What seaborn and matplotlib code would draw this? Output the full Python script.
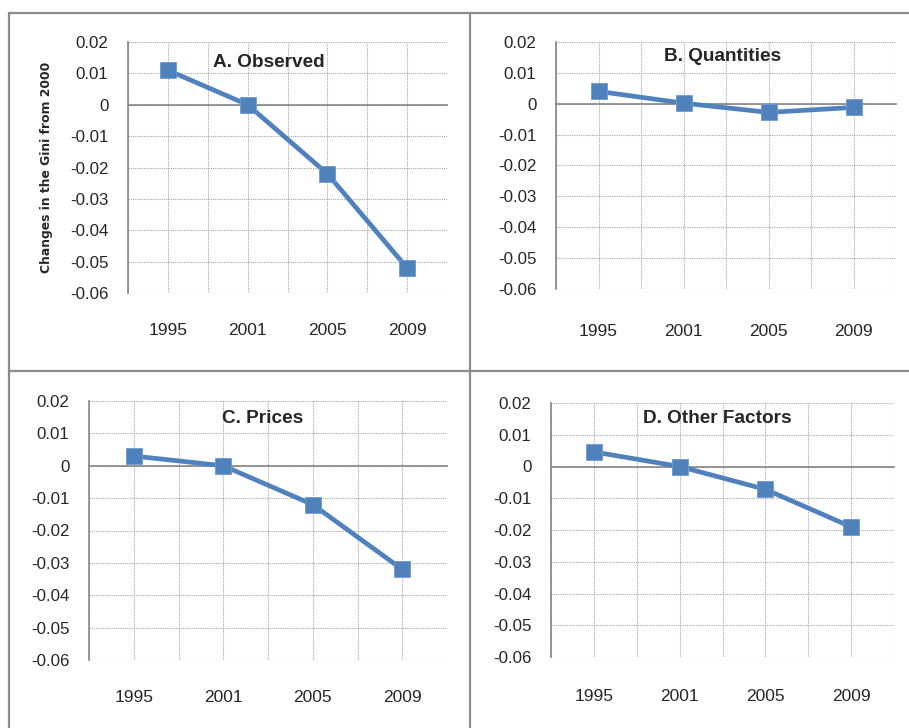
import numpy as np
import pandas as pd
import seaborn as sns
import matplotlib.pyplot as plt
from matplotlib.lines import Line2D

# Data
years = ["1995", "2001", "2005", "2009"]
observed = [0.011, 0.0, -0.022, -0.052]
quantities = [0.004, 0.0002, -0.0028, -0.0012]
prices = [0.003, 0.0, -0.012, -0.032]
other_factors = [0.0046, 0.0, -0.0072, -0.019]

titles = ["A. Observed", "B. Quantities", "C. Prices", "D. Other Factors"]
yticks = [0.02, 0.01, 0, -0.01, -0.02, -0.03, -0.04, -0.05, -0.06]
ytick_labels = ["0.02", "0.01", "0", "-0.01", "-0.02", "-0.03", "-0.04", "-0.05", "-0.06"]

W, H = 909, 728
BLUE = "#4F81BD"
GRID = "#a6a6a6"
AXIS = "#868686"

sns.set_theme(style="white")
plt.rcParams["font.family"] = ["Liberation Sans", "DejaVu Sans"]

df = pd.DataFrame({
    "year": years * 4,
    "value": observed + quantities + prices + other_factors,
    "panel": np.repeat(titles, len(years)),
})

# pixel boxes of each plot area: left, right, top, bottom
boxes = [(128, 447, 42, 293), (556, 896, 42, 289), (89, 447, 401, 660), (551, 894, 403, 657)]
title_pos = [(0.442, 0.92), (0.49, 0.94), (0.485, 0.934), (0.484, 0.94)]
year_row = [-0.11, -0.13, -0.105, -0.115]

fig = plt.figure(figsize=(W / 100, H / 100), dpi=100)

for i, name in enumerate(titles):
    l, r, t, b = boxes[i]
    ax = fig.add_axes([l / W, 1 - b / H, (r - l) / W, (b - t) / H])
    sub = df[df["panel"] == name]
    sns.lineplot(data=sub, x="year", y="value", ax=ax, color=BLUE, lw=3.4,
                 marker="s", markersize=12, markeredgecolor="#6f9bd0",
                 markeredgewidth=0.6, zorder=5)
    ax.set_xlim(-0.5, 3.5)
    ax.set_ylim(-0.06, 0.02)
    ax.set_xlabel("")
    ax.set_ylabel("")

    # category boundaries carry the ticks on the zero axis
    ax.set_xticks(np.arange(-0.5, 4, 1))
    ax.set_xticklabels([])
    ax.set_xticks(np.arange(len(years)), minor=True)
    ax.set_yticks(yticks)
    ax.set_yticklabels(ytick_labels, fontsize=12.2)
    ax.tick_params(axis="y", direction="out", length=5, color=AXIS, pad=9)
    ax.tick_params(axis="x", which="major", direction="out", length=5, color=AXIS)
    ax.tick_params(axis="x", which="minor", length=0)

    ax.grid(True, axis="both", which="major", color=GRID, lw=0.8, linestyle=(0, (1, 1)))
    ax.grid(True, axis="x", which="minor", color=GRID, lw=0.8, linestyle=(0, (1, 1)))

    ax.spines["bottom"].set_position(("data", 0))
    for s in ["top", "right"]:
        ax.spines[s].set_visible(False)
    for s in ["left", "bottom"]:
        ax.spines[s].set_color(AXIS)
        ax.spines[s].set_linewidth(1.2)

    # year labels sit below the plot area
    sec = ax.secondary_xaxis(year_row[i])
    sec.set_xticks(np.arange(len(years)))
    sec.set_xticklabels(years, fontsize=12.5)
    sec.tick_params(length=0, pad=2)
    sec.spines["bottom"].set_visible(False)

    tx, ty = title_pos[i]
    ax.text(tx, ty, name, transform=ax.transAxes, ha="center", va="center",
            fontsize=13.7, fontweight="bold")

    if i == 0:
        ax.set_ylabel("Changes in the Gini from 2000", fontsize=8.9,
                      fontweight="bold", family=["DejaVu Sans"])
        ax.yaxis.set_label_coords(-0.235, 0.5)

# table-like frame around the panels
frame = [((9, 909), (13, 13)), ((9, 909), (371, 371)),
         ((9, 9), (13, 728)), ((470, 470), (13, 728))]
for xs, ys in frame:
    fig.add_artist(Line2D([x / W for x in xs], [1 - y / H for y in ys],
                          transform=fig.transFigure, color="#8c8c8c", lw=1.6))

plt.savefig("out.png", dpi=100)
